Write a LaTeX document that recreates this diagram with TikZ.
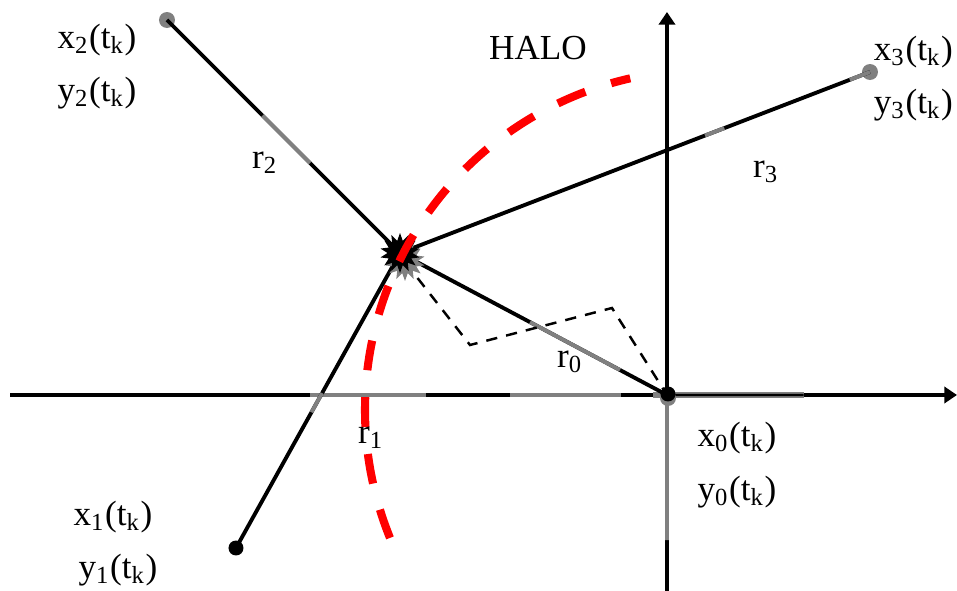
\documentclass[tikz,border=0pt]{standalone}
\usepackage{fontspec}
\setmainfont{Liberation Serif}
\usepackage{tikz}
\usetikzlibrary{
  arrows.meta,
  calc,
  shapes.geometric
}
\definecolor{halored}{RGB}{255, 0, 0}
\definecolor{seggray}{RGB}{128, 128, 128}
\tikzset{
  % axes and rays
  axisline/.style = {line width=1.1pt, black, -{Triangle[length=3.6pt,width=4.6pt]}},
  rayline/.style  = {line width=1.1pt, black},
  grayseg/.style  = {line width=1.1pt, seggray},
  helpline/.style = {line width=0.7pt, black, dash pattern=on 3.2pt off 2.6pt},
  % halo
  haloarc/.style  = {line width=2.3pt, halored, dash pattern=on 0.30cm off 0.27cm},
  % points
  dotblack/.style = {circle, fill=black, inner sep=0pt, minimum size=0.15cm},
  dotgray/.style  = {circle, fill=seggray, inner sep=0pt, minimum size=0.16cm},
  burst/.style    = {star, star points=14, star point ratio=1.6, inner sep=0pt, minimum size=0.40cm},
  % labels
  lab/.style      = {font=\fontsize{10}{12}\selectfont, inner sep=1pt},
}
\begin{document}
\begin{tikzpicture}
  \useasboundingbox (0,0) rectangle (9.57,5.91);
  % punkty
  \coordinate (O)  at (6.67,1.96);
  \coordinate (S)  at (4.00,3.38);
  \coordinate (d1) at (4.70,2.46);
  \coordinate (d2) at (6.12,2.83);
  \coordinate (hc) at (7.05,1.81);
  \coordinate (xl) at (0.10,1.96);
  \coordinate (xr) at (9.57,1.96);
  \coordinate (yb) at (6.67,0);
  \coordinate (yt) at (6.67,5.79);
  % osie
  \draw[axisline] (xl) -- (xr);
  \draw[axisline] (yb) -- (yt);
  \draw[grayseg] ($(xl)!0.317!(xr)$) -- ($(xl)!0.439!(xr)$);
  \draw[grayseg] ($(xl)!0.528!(xr)$) -- ($(xl)!0.645!(xr)$);
  \draw[grayseg, line width=1.5pt] ($(xl)!0.679!(xr)$) -- ($(xl)!0.838!(xr)$);
  \draw[rayline, line width=0.7pt] (O) -- ($(xl)!0.838!(xr)$);
  \draw[grayseg] (O) -- ($(yb)!0.26!(O)$);
  % punkty koncowe
  \node[dotgray]  (P2) at (1.67,5.71) {};
  \node[dotgray]  (P3) at (8.70,5.19) {};
  \node[dotblack] (P1) at (2.36,0.43) {};
  \node[dotgray]  (O2) at (6.68,1.93) {};
  \node[dotblack] (O1) at (6.68,1.97) {};
  % promienie
  \draw[rayline] (S) -- (P2.center);
  \draw[rayline] (S) -- (P3.center);
  \draw[rayline] (S) -- (P1.center);
  \draw[rayline] (S) -- (O);
  \draw[grayseg] ($(S)!0.386!(P2)$) -- ($(S)!0.59!(P2)$);
  \draw[grayseg] ($(S)!0.649!(P3)$) -- ($(S)!0.69!(P3)$);
  \draw[grayseg] ($(S)!0.957!(P3)$) -- (P3.center);
  \draw[grayseg] ($(S)!0.475!(P1)$) -- ($(S)!0.54!(P1)$);
  \draw[grayseg] ($(S)!0.487!(O)$) -- ($(S)!0.824!(O)$);
  % linia pomocnicza
  \draw[helpline] ($(S)+(0.05,-0.09)$) -- (d1) -- (d2) -- (O);
  % zrodlo
  \node[burst, fill=seggray] (Sg) at ($(S)+(0.05,-0.08)$) {};
  \node[burst, fill=black]   (Sb) at (S) {};
  % halo
  \draw[haloarc] (hc) ++(202.1:3.4) arc[start angle=202.1, end angle=102.7, radius=3.4];
  % etykiety
  \node[lab] (HALO) at (5.38,5.43) {HALO};
  \node[lab] (x2) at (0.97,5.51) {x\textsubscript{2}(t\textsubscript{k})};
  \node[lab] (y2) at (0.97,4.98) {y\textsubscript{2}(t\textsubscript{k})};
  \node[lab, anchor=east] (x3) at (9.57,5.39) {x\textsubscript{3}(t\textsubscript{k})};
  \node[lab, anchor=east] (y3) at (9.57,4.86) {y\textsubscript{3}(t\textsubscript{k})};
  \node[lab] (x0) at (7.37,1.53) {x\textsubscript{0}(t\textsubscript{k})};
  \node[lab] (y0) at (7.37,0.99) {y\textsubscript{0}(t\textsubscript{k})};
  \node[lab] (x1) at (1.13,0.74) {x\textsubscript{1}(t\textsubscript{k})};
  \node[lab] (y1) at (1.18,0.21) {y\textsubscript{1}(t\textsubscript{k})};
  \node[lab] (r2) at (2.65,4.28) {r\textsubscript{2}};
  \node[lab] (r3) at (7.66,4.19) {r\textsubscript{3}};
  \node[lab] (r0) at (5.70,2.29) {r\textsubscript{0}};
  \node[lab] (r1) at (3.71,1.53) {r\textsubscript{1}};
\end{tikzpicture}
\end{document}
